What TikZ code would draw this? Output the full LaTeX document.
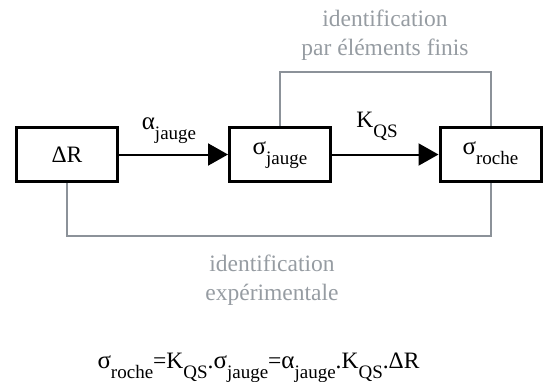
\documentclass[tikz,border=0pt]{standalone}
\usepackage{fontspec}
\setmainfont{Liberation Serif}
\usetikzlibrary{arrows.meta}
\definecolor{linegray}{RGB}{140,146,153}
\definecolor{textgray}{RGB}{150,156,162}
\newcommand{\lowsub}[1]{\raisebox{-10pt}{\fontsize{19}{19}\selectfont #1}}
\newcommand{\gk}[1]{{\fontsize{25}{29}\selectfont #1}}
\tikzset{
  blockbox/.style={draw=black, line width=3pt, minimum width=101pt, minimum height=54pt, inner sep=0pt, font=\fontsize{23.5}{29}\selectfont},
  subbox/.style={blockbox, text height=13pt, text depth=13pt},
  flowarrow/.style={line width=2pt, -{Triangle[length=20pt,width=22pt]}},
  graybracket/.style={draw=linegray, line width=2pt},
  graytext/.style={text=textgray, align=center, inner sep=0pt, font=\fontsize{23.5}{29}\selectfont},
  plaintext/.style={font=\fontsize{23.5}{29}\selectfont, inner sep=0pt}
}
\begin{document}
\begin{tikzpicture}[x=1pt,y=-1pt]
\useasboundingbox (0,0) rectangle (543,381);
\node[blockbox] (dr) at (67,154.5) {ΔR};
\node[subbox] (sj) at (280,154.5) {\gk{σ}\lowsub{jauge}};
\node[subbox] (sr) at (490.5,154.5) {\gk{σ}\lowsub{roche}};
\draw[flowarrow] (dr) -- (sj);
\draw[flowarrow] (sj) -- (sr);
\node[plaintext, anchor=base] (la) at (169,129) {\gk{α}\lowsub{jauge}};
\node[plaintext, anchor=base] (lk) at (377,127) {K\lowsub{QS}};
\draw[graybracket] (sj.north) -- ++(0,-54) -| (sr.north);
\draw[graybracket] (dr.south) -- ++(0,53) -| (sr.south);
\node[graytext, anchor=base] (tf) at (385,55) {identification\\par éléments finis};
\node[graytext, anchor=base] (te) at (272,300) {identification\\expérimentale};
\node[plaintext, anchor=base] (eq) at (258.5,368) {\gk{σ}\lowsub{roche}=K\lowsub{QS}.\gk{σ}\lowsub{jauge}=\gk{α}\lowsub{jauge}.K\lowsub{QS}.ΔR};
\end{tikzpicture}
\end{document}
